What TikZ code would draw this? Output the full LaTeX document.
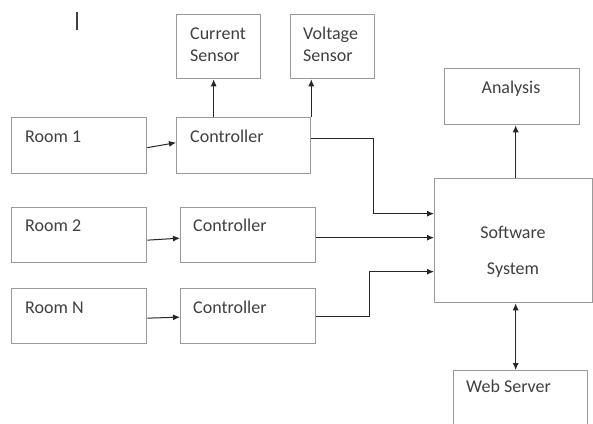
\documentclass[tikz,border=0pt]{standalone}
\usepackage{fontspec}
\setmainfont{Carlito}
\usetikzlibrary{arrows.meta}
\definecolor{boxgray}{HTML}{9A9A9A}
\definecolor{txtgray}{HTML}{404040}
\tikzset{
  box/.style={draw=boxgray, line width=1.3bp, rectangle, anchor=north west, inner sep=0pt},
  txt/.style={text=txtgray, font=\fontsize{18bp}{21bp}\selectfont, inner sep=0pt},
  arr/.style={draw=black!85, line width=1bp, -{Latex[length=7bp,width=6bp]}},
  dblarr/.style={draw=black!85, line width=1bp, {Latex[length=7bp,width=6bp]}-{Latex[length=7bp,width=6bp]}}
}
\begin{document}
\begin{tikzpicture}[x=1bp,y=-1bp]
\useasboundingbox[fill=white] (0,0) rectangle (593,423);
% stray cursor mark
\draw[black!75, line width=1.6bp] (77,12) -- (77,30);
% boxes
\node[box, minimum width=84bp, minimum height=64bp] (cs) at (176,14) {};
\node[box, minimum width=84bp, minimum height=64bp] (vs) at (290,14) {};
\node[box, minimum width=135bp, minimum height=56bp] (r1) at (11,117) {};
\node[box, minimum width=134bp, minimum height=56bp] (c1) at (176,117) {};
\node[box, minimum width=135bp, minimum height=55bp] (r2) at (11,207) {};
\node[box, minimum width=135bp, minimum height=55bp] (c2) at (180,207) {};
\node[box, minimum width=135bp, minimum height=55bp] (rn) at (11,288) {};
\node[box, minimum width=135bp, minimum height=55bp] (cn) at (180,288) {};
\node[box, minimum width=135bp, minimum height=56bp] (an) at (444,68) {};
\node[box, minimum width=158bp, minimum height=124bp] (sw) at (434,178) {};
\node[box, minimum width=134bp, minimum height=70bp] (web) at (453,370) {};
% texts
\node[txt, anchor=base west] (cst1) at (190,39) {Current};
\node[txt, anchor=base west] (cst2) at (190,61) {Sensor};
\node[txt, anchor=base west] (vst1) at (303,39) {Voltage};
\node[txt, anchor=base west] (vst2) at (303,61) {Sensor};
\node[txt, anchor=base west] (r1t) at (25,142) {Room 1};
\node[txt, anchor=base west] (c1t) at (190,142) {Controller};
\node[txt, anchor=base west] (r2t) at (25,231) {Room 2};
\node[txt, anchor=base west] (c2t) at (193,231) {Controller};
\node[txt, anchor=base west] (rnt) at (25,313) {Room N};
\node[txt, anchor=base west] (cnt) at (193,313) {Controller};
\node[txt, anchor=base] (ant) at (511,93) {Analysis};
\node[txt, anchor=base] (swt1) at (513,238) {Software};
\node[txt, anchor=base] (swt2) at (513,274) {System};
\node[txt, anchor=base west] (webt) at (466,392) {Web Server};
% connectors
\draw[arr] ([yshift=-2bp]r1.east) -- ([yshift=3bp]c1.west);
\draw[arr] ([yshift=-5bp]r2.east) -- ([yshift=-3bp]c2.west);
\draw[arr] ([yshift=-2bp]rn.east) -- ([yshift=-1bp]cn.west);
\draw[arr] ([xshift=-5bp]cs.south |- c1.north) -- ([xshift=-5bp]cs.south);
\draw[arr] (c1.north east) -- (c1.north east |- vs.south);
\coordinate (in1) at ([yshift=27bp]sw.west);
\coordinate (in2) at ([yshift=3bp]sw.west);
\coordinate (in3) at ([yshift=-31bp]sw.west);
\draw[arr] ([yshift=7bp]c1.east) -- ++(62,0) |- (in1);
\draw[arr] (c2.east |- in2) -- (in2);
\draw[arr] (cn.east) -- ++(53,0) |- (in3);
\draw[arr] ([xshift=2bp]sw.north) -- ([xshift=2bp]sw.north |- an.south);
\draw[dblarr] ([xshift=2bp]sw.south) -- ([xshift=2bp]sw.south |- web.north);
\end{tikzpicture}
\end{document}
